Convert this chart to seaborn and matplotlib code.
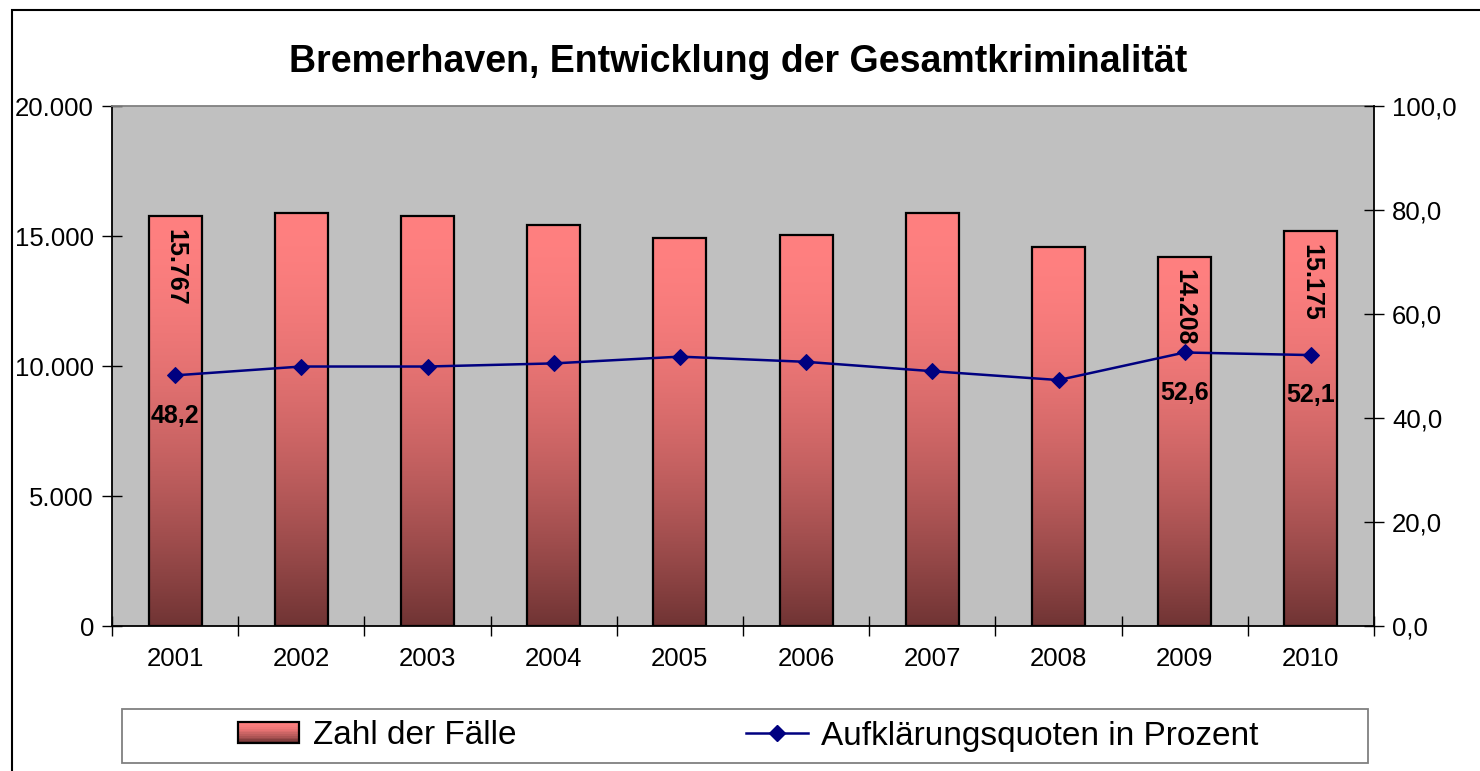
import numpy as np
import pandas as pd
import matplotlib
matplotlib.use("Agg")
import matplotlib.pyplot as plt
import seaborn as sns
from matplotlib.patches import Rectangle
from matplotlib.lines import Line2D
from matplotlib.legend_handler import HandlerBase
from matplotlib.ticker import FuncFormatter, FixedLocator

years = ["2001", "2002", "2003", "2004", "2005", "2006", "2007", "2008", "2009", "2010"]
cases = [15767, 15880, 15760, 15420, 14940, 15030, 15880, 14590, 14208, 15175]
quote = [48.2, 49.9, 49.9, 50.5, 51.8, 50.8, 49.0, 47.3, 52.6, 52.1]
labelled = ["2001", "2009", "2010"]

title = "Bremerhaven, Entwicklung der Gesamtkriminalität"
bar_name = "Zahl der Fälle"
line_name = "Aufklärungsquoten in Prozent"

plt.rcParams["font.family"] = ["Liberation Sans", "DejaVu Sans"]

top_col = np.array([255, 128, 128]) / 255
bot_col = np.array([112, 52, 52]) / 255


def grad_colors(n):
    t = np.linspace(0, 1, n) ** 1.7
    return top_col[None, :] + (bot_col - top_col)[None, :] * t[:, None]


df = pd.DataFrame({"year": years, "cases": cases, "quote": quote, "pos": np.arange(len(years))})

fig = plt.figure(figsize=(14.8, 7.71), dpi=100)
ax = fig.add_axes([112 / 1480, 145 / 771, 1262 / 1480, 520 / 771])
ax.set_facecolor("#c0c0c0")

sns.barplot(data=df, x="year", y="cases", ax=ax, width=0.42, color="#ff8080",
            edgecolor="black", linewidth=1.6, saturation=1)

# gradient fill inside every bar
g = grad_colors(256)[:, None, :]
for p in ax.patches:
    x0, y0 = p.get_x(), p.get_y()
    x1, y1 = x0 + p.get_width(), y0 + p.get_height()
    im = ax.imshow(g, extent=[x0, x1, y0, y1], aspect="auto", origin="upper", zorder=2)
    im.set_clip_path(p)
    p.set_facecolor("none")
    p.set_zorder(3)

ax.set_xlim(-0.5, len(years) - 0.5)
ax.set_ylim(0, 20000)
ax.set_yticks(np.arange(0, 20001, 5000))
ax.yaxis.set_major_formatter(FuncFormatter(lambda v, _: f"{int(v):,}".replace(",", ".")))
ax.set_xlabel("")
ax.set_ylabel("")
ax.tick_params(axis="y", direction="inout", length=14, width=1, labelsize=18.5, pad=6)
ax.tick_params(axis="x", which="major", length=0, labelsize=18.5, pad=15)
ax.xaxis.set_minor_locator(FixedLocator(np.arange(-0.5, len(years), 1.0)))
ax.tick_params(axis="x", which="minor", direction="inout", length=14, width=1)
for s in ["left", "bottom"]:
    ax.spines[s].set_color("black")
    ax.spines[s].set_linewidth(1.3)
ax.spines["top"].set_color("#808080")
ax.spines["top"].set_linewidth(1.3)
ax.spines["right"].set_visible(False)

for i, (y, v) in enumerate(zip(years, cases)):
    if y in labelled:
        ax.annotate(f"{v:,}".replace(",", "."), (i, v), xytext=(0, -9), textcoords="offset points",
                    rotation=-90, ha="center", va="top", fontsize=18, fontweight="bold", zorder=5)

ax2 = ax.twinx()
sns.lineplot(data=df, x="pos", y="quote", ax=ax2, color="#000080", linewidth=1.8,
             marker="D", markersize=8, markeredgecolor="#000080", legend=False)
ax2.set_ylim(0, 100)
ax2.set_yticks(np.arange(0, 101, 20))
ax2.yaxis.set_major_formatter(FuncFormatter(lambda v, _: f"{v:.1f}".replace(".", ",")))
ax2.set_ylabel("")
ax2.set_xlabel("")
ax2.tick_params(axis="y", direction="inout", length=14, width=1, labelsize=18.5, pad=6)
for s in ["left", "top", "bottom"]:
    ax2.spines[s].set_visible(False)
ax2.spines["right"].set_color("black")
ax2.spines["right"].set_linewidth(1.3)
ax2.set_xlim(-0.5, len(years) - 0.5)

for i, (y, q) in enumerate(zip(years, quote)):
    if y in labelled:
        ax2.annotate(f"{q:.1f}".replace(".", ","), (i, q), xytext=(0, -29), textcoords="offset points",
                     ha="center", va="center", fontsize=18, fontweight="bold")

fig.text(738 / 1480, 1 - 62 / 771, title, ha="center", va="center", fontsize=27, fontweight="bold")


class GradHandler(HandlerBase):
    def create_artists(self, legend, orig, xd, yd, width, height, fontsize, trans):
        arts = []
        n = 12
        cols = grad_colors(n)
        for k in range(n):
            arts.append(Rectangle((-xd, -yd + height * (n - 1 - k) / n), width, height / n + 0.3,
                                  facecolor=cols[k], edgecolor="none", transform=trans))
        arts.append(Rectangle((-xd, -yd), width, height, facecolor="none",
                              edgecolor="black", linewidth=1.6, transform=trans))
        return arts


bar_handle = Rectangle((0, 0), 1, 1)
line_handle = Line2D([], [], color="#000080", linewidth=1.8, marker="D", markersize=8)
fig.legend([bar_handle, line_handle], [bar_name, line_name], handler_map={Rectangle: GradHandler()},
           loc="center", bbox_to_anchor=(748 / 1480, 1 - 736 / 771), ncol=2, frameon=False,
           fontsize=24, handlelength=1.85, handleheight=0.6, handletextpad=0.4, columnspacing=6.9)

# legend box and outer chart frame
fig.add_artist(Rectangle((122 / 1480, 8 / 771), 1246 / 1480, 54 / 771, transform=fig.transFigure,
                         facecolor="none", edgecolor="#808080", linewidth=1.3))
fig.add_artist(Rectangle((12 / 1480, -0.05), 1.1, 1.05 - 10 / 771, transform=fig.transFigure,
                         facecolor="none", edgecolor="black", linewidth=1.5))

fig.savefig("out.png", dpi=100)
